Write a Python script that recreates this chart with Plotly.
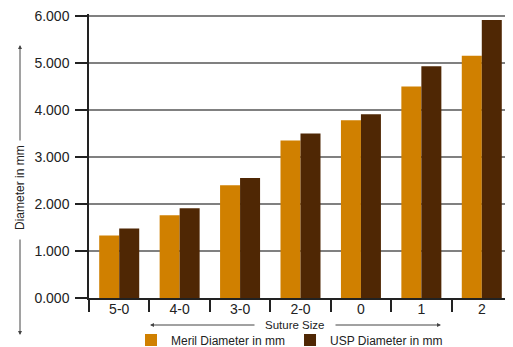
import plotly.graph_objects as go

categories = ["5-0", "4-0", "3-0", "2-0", "0", "1", "2"]
meril_values = [1.33, 1.76, 2.40, 3.35, 3.78, 4.50, 5.15]
usp_values = [1.48, 1.91, 2.55, 3.50, 3.91, 4.93, 5.91]
y_ticks = [0, 1, 2, 3, 4, 5, 6]

FONT = "Liberation Sans, Arial, Helvetica, sans-serif"
DARK = "#222222"

fig = go.Figure()
fig.add_trace(go.Bar(x=categories, y=meril_values, name="Meril Diameter in mm",
                     marker=dict(color="#D08000", line=dict(width=0))))
fig.add_trace(go.Bar(x=categories, y=usp_values, name="USP Diameter in mm",
                     marker=dict(color="#4F2704", line=dict(width=0))))

# page pixel -> paper helpers (plot area 89..512 x, 14..298 y on the page)
def xp(px):
    return (px - 89.0) / 423.0

def yp(py):
    return (298.0 - py) / 284.0

annotations = [
    dict(text="Diameter in mm", x=xp(20), y=yp(188), xref="paper", yref="paper",
         xanchor="center", yanchor="middle",
         showarrow=False, textangle=-90, font=dict(size=12, color=DARK, family=FONT)),
    dict(text="", x=xp(20), y=yp(45), xref="paper", yref="paper", showarrow=True,
         ax=0, ay=97, arrowhead=2, arrowsize=0.8, arrowwidth=1, arrowcolor="#444"),
    dict(text="", x=xp(20), y=yp(335), xref="paper", yref="paper", showarrow=True,
         ax=0, ay=-97, arrowhead=2, arrowsize=0.8, arrowwidth=1, arrowcolor="#444"),
    dict(text="Suture Size", x=xp(294), y=yp(325), xref="paper", yref="paper",
         xanchor="center", yanchor="middle",
         showarrow=False, font=dict(size=11.5, color=DARK, family=FONT)),
    dict(text="", x=xp(150), y=yp(325), xref="paper", yref="paper", showarrow=True,
         ax=106, ay=0, arrowhead=2, arrowsize=0.8, arrowwidth=1, arrowcolor="#444"),
    dict(text="", x=xp(441), y=yp(325), xref="paper", yref="paper", showarrow=True,
         ax=-107, ay=0, arrowhead=2, arrowsize=0.8, arrowwidth=1, arrowcolor="#444"),
]

# the page body has an 8px margin, so the figure is 8px smaller and offset
fig.update_layout(
    width=505, height=339,
    margin=dict(l=81, r=1, t=6, b=49, pad=0, autoexpand=False),
    paper_bgcolor="white", plot_bgcolor="white",
    font=dict(family=FONT, color=DARK),
    barmode="group", bargap=0.338, bargroupgap=0,
    showlegend=True,
    legend=dict(orientation="h", x=xp(131), y=yp(340), xanchor="left", yanchor="middle",
                font=dict(size=12, color=DARK, family=FONT), bgcolor="rgba(0,0,0,0)",
                itemclick=False),
    annotations=annotations,
    xaxis=dict(type="category", showline=True, linecolor=DARK, linewidth=1.5,
               ticks="outside", tickson="boundaries", ticklen=12, tickwidth=1.5,
               tickcolor=DARK, showgrid=False, tickfont=dict(size=14, color=DARK),
               ticklabelstandoff=-3, automargin=False),
    yaxis=dict(range=[0, 6.04], tickvals=y_ticks, tickformat=".3f",
               showline=True, linecolor=DARK, linewidth=1.5,
               ticks="outside", ticklen=12, tickwidth=1.5, tickcolor=DARK,
               showgrid=True, gridcolor="#808080", gridwidth=1.5, zeroline=False,
               tickfont=dict(size=14, color=DARK), ticklabelstandoff=3,
               ticklabeloverflow="allow", automargin=False),
)

fig.write_html("out.html")
